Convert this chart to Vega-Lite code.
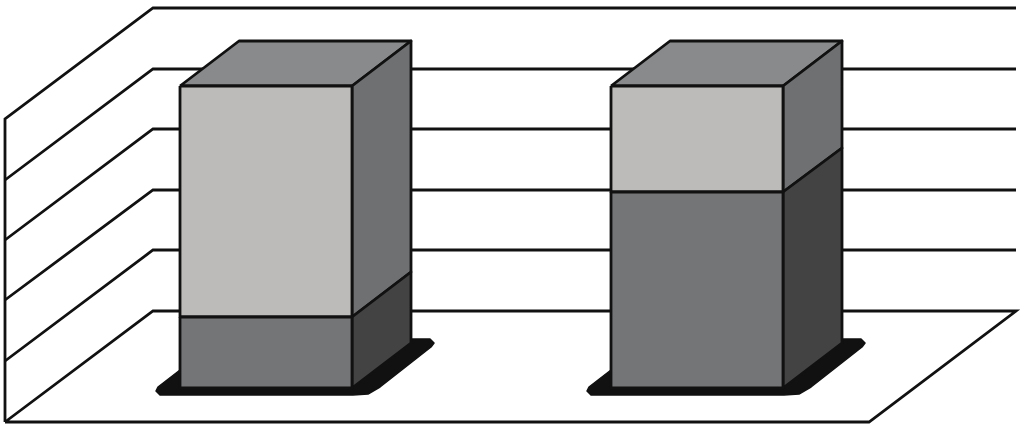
{
  "$schema": "https://vega.github.io/schema/vega-lite/v6.json",
  "autosize": {"type": "none"},
  "width": 1024,
  "height": 428,
  "padding": 0,
  "background": "#ffffff",
  "view": {"stroke": null},
  "datasets": {
    "frame": [
      {"line": "outline", "i": 1, "x": 5, "y": 422},
      {"line": "outline", "i": 2, "x": 5, "y": 119},
      {"line": "outline", "i": 3, "x": 153, "y": 8},
      {"line": "outline", "i": 4, "x": 1016, "y": 8},
      {"line": "grid1", "i": 1, "x": 5, "y": 180},
      {"line": "grid1", "i": 2, "x": 153, "y": 69},
      {"line": "grid1", "i": 3, "x": 1016, "y": 69},
      {"line": "grid2", "i": 1, "x": 5, "y": 240},
      {"line": "grid2", "i": 2, "x": 153, "y": 129},
      {"line": "grid2", "i": 3, "x": 1016, "y": 129},
      {"line": "grid3", "i": 1, "x": 5, "y": 300},
      {"line": "grid3", "i": 2, "x": 153, "y": 190},
      {"line": "grid3", "i": 3, "x": 1016, "y": 190},
      {"line": "grid4", "i": 1, "x": 5, "y": 361},
      {"line": "grid4", "i": 2, "x": 153, "y": 250},
      {"line": "grid4", "i": 3, "x": 1016, "y": 250},
      {"line": "floor", "i": 1, "x": 5, "y": 422},
      {"line": "floor", "i": 2, "x": 153, "y": 311},
      {"line": "floor", "i": 3, "x": 1016, "y": 311},
      {"line": "floor", "i": 4, "x": 869, "y": 422},
      {"line": "floor", "i": 5, "x": 5, "y": 422}
    ],
    "shadows": [
      {"bar": "A", "i": 1, "x": 180, "y": 370},
      {"bar": "A", "i": 2, "x": 158, "y": 387},
      {"bar": "A", "i": 3, "x": 156, "y": 391},
      {"bar": "A", "i": 4, "x": 160, "y": 395},
      {"bar": "A", "i": 5, "x": 353, "y": 395},
      {"bar": "A", "i": 6, "x": 368, "y": 394},
      {"bar": "A", "i": 7, "x": 380, "y": 387},
      {"bar": "A", "i": 8, "x": 431, "y": 347},
      {"bar": "A", "i": 9, "x": 434, "y": 343},
      {"bar": "A", "i": 10, "x": 430, "y": 339},
      {"bar": "A", "i": 11, "x": 411, "y": 339},
      {"bar": "A", "i": 12, "x": 180, "y": 370},
      {"bar": "B", "i": 1, "x": 611, "y": 370},
      {"bar": "B", "i": 2, "x": 589, "y": 387},
      {"bar": "B", "i": 3, "x": 587, "y": 391},
      {"bar": "B", "i": 4, "x": 591, "y": 395},
      {"bar": "B", "i": 5, "x": 784, "y": 395},
      {"bar": "B", "i": 6, "x": 799, "y": 394},
      {"bar": "B", "i": 7, "x": 811, "y": 387},
      {"bar": "B", "i": 8, "x": 862, "y": 347},
      {"bar": "B", "i": 9, "x": 865, "y": 343},
      {"bar": "B", "i": 10, "x": 861, "y": 339},
      {"bar": "B", "i": 11, "x": 842, "y": 339},
      {"bar": "B", "i": 12, "x": 611, "y": 370}
    ],
    "faces": [
      {"face": "A top", "tone": "top", "i": 1, "x": 180, "y": 86},
      {"face": "A top", "tone": "top", "i": 2, "x": 239, "y": 41},
      {"face": "A top", "tone": "top", "i": 3, "x": 411, "y": 41},
      {"face": "A top", "tone": "top", "i": 4, "x": 352, "y": 86},
      {"face": "A top", "tone": "top", "i": 5, "x": 180, "y": 86},
      {"face": "A upper side", "tone": "upper side", "i": 1, "x": 352, "y": 86},
      {"face": "A upper side", "tone": "upper side", "i": 2, "x": 411, "y": 41},
      {"face": "A upper side", "tone": "upper side", "i": 3, "x": 411, "y": 272},
      {"face": "A upper side", "tone": "upper side", "i": 4, "x": 352, "y": 317},
      {"face": "A upper side", "tone": "upper side", "i": 5, "x": 352, "y": 86},
      {"face": "A lower side", "tone": "lower side", "i": 1, "x": 352, "y": 317},
      {"face": "A lower side", "tone": "lower side", "i": 2, "x": 411, "y": 272},
      {"face": "A lower side", "tone": "lower side", "i": 3, "x": 411, "y": 343},
      {"face": "A lower side", "tone": "lower side", "i": 4, "x": 352, "y": 388},
      {"face": "A lower side", "tone": "lower side", "i": 5, "x": 352, "y": 317},
      {"face": "A upper front", "tone": "upper front", "i": 1, "x": 180, "y": 86},
      {"face": "A upper front", "tone": "upper front", "i": 2, "x": 352, "y": 86},
      {"face": "A upper front", "tone": "upper front", "i": 3, "x": 352, "y": 317},
      {"face": "A upper front", "tone": "upper front", "i": 4, "x": 180, "y": 317},
      {"face": "A upper front", "tone": "upper front", "i": 5, "x": 180, "y": 86},
      {"face": "A lower front", "tone": "lower front", "i": 1, "x": 180, "y": 317},
      {"face": "A lower front", "tone": "lower front", "i": 2, "x": 352, "y": 317},
      {"face": "A lower front", "tone": "lower front", "i": 3, "x": 352, "y": 388},
      {"face": "A lower front", "tone": "lower front", "i": 4, "x": 180, "y": 388},
      {"face": "A lower front", "tone": "lower front", "i": 5, "x": 180, "y": 317},
      {"face": "B top", "tone": "top", "i": 1, "x": 611, "y": 86},
      {"face": "B top", "tone": "top", "i": 2, "x": 670, "y": 41},
      {"face": "B top", "tone": "top", "i": 3, "x": 842, "y": 41},
      {"face": "B top", "tone": "top", "i": 4, "x": 783, "y": 86},
      {"face": "B top", "tone": "top", "i": 5, "x": 611, "y": 86},
      {"face": "B upper side", "tone": "upper side", "i": 1, "x": 783, "y": 86},
      {"face": "B upper side", "tone": "upper side", "i": 2, "x": 842, "y": 41},
      {"face": "B upper side", "tone": "upper side", "i": 3, "x": 842, "y": 148},
      {"face": "B upper side", "tone": "upper side", "i": 4, "x": 783, "y": 192},
      {"face": "B upper side", "tone": "upper side", "i": 5, "x": 783, "y": 86},
      {"face": "B lower side", "tone": "lower side", "i": 1, "x": 783, "y": 192},
      {"face": "B lower side", "tone": "lower side", "i": 2, "x": 842, "y": 148},
      {"face": "B lower side", "tone": "lower side", "i": 3, "x": 842, "y": 343},
      {"face": "B lower side", "tone": "lower side", "i": 4, "x": 783, "y": 388},
      {"face": "B lower side", "tone": "lower side", "i": 5, "x": 783, "y": 192},
      {"face": "B upper front", "tone": "upper front", "i": 1, "x": 611, "y": 86},
      {"face": "B upper front", "tone": "upper front", "i": 2, "x": 783, "y": 86},
      {"face": "B upper front", "tone": "upper front", "i": 3, "x": 783, "y": 192},
      {"face": "B upper front", "tone": "upper front", "i": 4, "x": 611, "y": 192},
      {"face": "B upper front", "tone": "upper front", "i": 5, "x": 611, "y": 86},
      {"face": "B lower front", "tone": "lower front", "i": 1, "x": 611, "y": 192},
      {"face": "B lower front", "tone": "lower front", "i": 2, "x": 783, "y": 192},
      {"face": "B lower front", "tone": "lower front", "i": 3, "x": 783, "y": 388},
      {"face": "B lower front", "tone": "lower front", "i": 4, "x": 611, "y": 388},
      {"face": "B lower front", "tone": "lower front", "i": 5, "x": 611, "y": 192}
    ]
  },
  "encoding": {
    "x": {"field": "x", "type": "quantitative", "axis": null, "scale": {"domain": [0, 1024], "nice": false, "zero": false}},
    "y": {"field": "y", "type": "quantitative", "axis": null, "scale": {"domain": [428, 0], "nice": false, "zero": false}},
    "order": {"field": "i", "type": "ordinal"}
  },
  "layer": [
    {
      "data": {"name": "frame"},
      "mark": {"type": "line", "stroke": "#111111", "strokeWidth": 2.8, "strokeJoin": "miter", "clip": false},
      "encoding": {"detail": {"field": "line", "type": "nominal"}}
    },
    {
      "data": {"name": "shadows"},
      "mark": {"type": "line", "stroke": "#111111", "strokeWidth": 1.5, "strokeJoin": "round"},
      "encoding": {
        "detail": {"field": "bar", "type": "nominal"},
        "fill": {"value": "#111111"}
      }
    },
    {
      "data": {"name": "faces"},
      "mark": {"type": "line", "stroke": "#111111", "strokeWidth": 2.8, "strokeJoin": "round"},
      "encoding": {
        "detail": {"field": "face", "type": "nominal"},
        "fill": {
          "field": "tone",
          "type": "nominal",
          "legend": null,
          "scale": {
            "domain": ["top", "upper side", "lower side", "upper front", "lower front"],
            "range": ["#888a8b", "#6e7071", "#434343", "#bcbbb9", "#747577"]
          }
        }
      }
    }
  ]
}
